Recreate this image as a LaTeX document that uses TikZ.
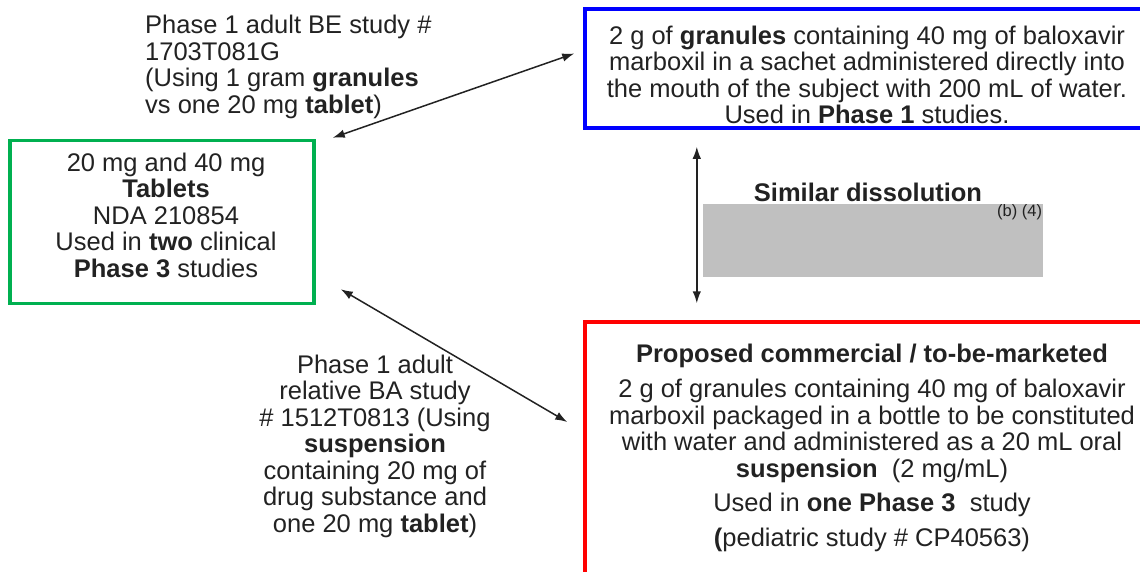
\documentclass[tikz,border=0pt]{standalone}
\usepackage{fontspec}
\setmainfont{Liberation Sans}
\usetikzlibrary{positioning,calc,arrows.meta}
\definecolor{bluebx}{RGB}{0,0,255}
\definecolor{greenbx}{RGB}{0,176,80}
\definecolor{redbx}{RGB}{255,0,0}
\definecolor{grayrx}{RGB}{192,192,192}
\definecolor{inkgr}{RGB}{34,34,34}

\begin{document}
\begin{tikzpicture}[x=1pt,y=-1pt,
  box/.style={draw=#1, line width=3.5pt, inner sep=0pt},
  txt/.style={inner sep=0pt, text=inkgr, align=center, font=\fontsize{25.5}{26.5}\selectfont},
  link/.style={<->, >={Latex[length=12pt,width=8.5pt]}, line width=1.5pt, draw=inkgr}]
\useasboundingbox (0,0) rectangle (1140,571);
\clip (0,0) rectangle (1140,571);

% formulation boxes
\node[box=bluebx, minimum width=565pt, minimum height=119pt] (sachet) at (867.5,68.5) {};
\node[box=greenbx, minimum width=304pt, minimum height=163pt] (tablets) at (162,222) {};
\node[box=redbx, minimum width=575pt, minimum height=278pt] (market) at (872.5,461) {};

\node[txt] (sachettxt) at (867,75) {2 g of \textbf{granules} containing 40 mg of baloxavir\\marboxil in a sachet administered directly into\\the mouth of the subject with 200 mL of water.\\Used in \textbf{Phase 1} studies.};
\node[txt] (tabletstxt) at (166,215) {20 mg and 40 mg\\\textbf{Tablets}\\NDA 210854\\Used in \textbf{two} clinical\\\textbf{Phase 3} studies};
\node[txt] (markettxt) at (872,448) {\textbf{Proposed commercial / to-be-marketed}\\[8.5pt]2 g of granules containing 40 mg of baloxavir\\marboxil packaged in a bottle to be constituted\\with water and administered as a 20 mL oral\\\textbf{suspension}~ (2 mg/mL)\\[7.5pt]Used in \textbf{one Phase 3}~ study\\[8.5pt]\textbf{(}pediatric study \# CP40563)};

% dissolution
\node[fill=grayrx, minimum width=340pt, minimum height=73pt, inner sep=0pt] (dissol) at (873,240.5) {};
\node[txt, font=\bfseries\fontsize{25.5}{26.5}\selectfont, above=2pt of dissol, xshift=-5pt] (simlabel) {Similar dissolution};
\node[inner sep=1pt, anchor=north east, text=inkgr, font=\fontsize{16.5}{17}\selectfont] (redact) at (dissol.north east) {(b) (4)};

% study labels
\node[txt, align=left, anchor=west] (bestudy) at (145,67) {Phase 1 adult BE study \#\\1703T081G\\(Using 1 gram \textbf{granules}\\vs one 20 mg \textbf{tablet})};
\node[txt] (bastudy) at (375,446) {Phase 1 adult\\relative BA study\\\# 1512T0813 (Using\\\textbf{suspension}\\containing 20 mg of\\drug substance and\\one 20 mg \textbf{tablet})};

\draw[link] ($(sachet.west)+(-9,-15)$) -- ($(tablets.north east)+(17,-1)$);
\draw[link] ($(tablets.south east)+(25,-16)$) -- ($(market.west)+(-16,-39)$);
\draw[link] ($(dissol.west |- sachet.south)+(-6,17)$) -- ($(dissol.west |- market.north)+(-6,-17)$);
\end{tikzpicture}
\end{document}
